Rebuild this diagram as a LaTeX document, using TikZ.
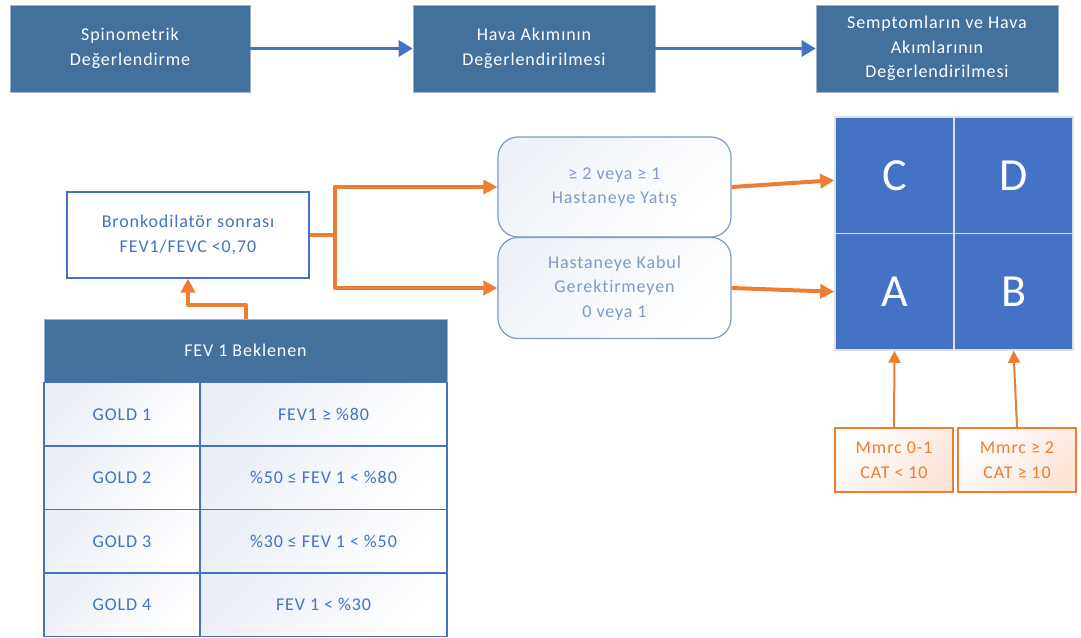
\documentclass[tikz,border=0pt]{standalone}
\usepackage{fontspec}
\setmainfont[LetterSpace=5,Ligatures={NoCommon}]{Carlito}
\usetikzlibrary{arrows.meta}
\definecolor{hdr}{HTML}{41719C}
\definecolor{hdrb}{HTML}{9DB3C9}
\definecolor{acc}{HTML}{4472C4}
\definecolor{org}{HTML}{ED7D31}
\definecolor{rtxt}{HTML}{7F9CC4}
\definecolor{rbord}{HTML}{7A9CC6}
\definecolor{rfill}{HTML}{EEF2F8}
\definecolor{cfill}{HTML}{EAEEF6}
\definecolor{ofill}{HTML}{FCE4D6}
\tikzset{
  txt/.style={font=\fontsize{18}{24.5}\selectfont, align=center, inner sep=0pt},
  topbox/.style={txt, draw=hdrb, line width=0.6pt, fill=hdr, text=white, minimum height=87pt},
  bkbox/.style={txt, draw=acc, line width=1.2pt, fill=white, text=acc, minimum width=242pt, minimum height=86pt},
  rbox/.style={txt, draw=rbord, line width=1.2pt, rounded corners=20pt, top color=rfill, bottom color=white, shading angle=45, text=rtxt, minimum width=233pt},
  cell/.style={draw=gray!25, line width=1.5pt, fill=acc, text=white, font=\fontsize{46}{46}\selectfont, inner sep=0pt, minimum width=119pt, minimum height=116.5pt},
  mbox/.style={txt, draw=org, line width=1.2pt, top color=white, bottom color=ofill, shading angle=45, text=org, minimum width=118pt, minimum height=64pt},
  hdbox/.style={txt, draw=hdrb, line width=0.8pt, fill=hdr, text=white, minimum width=403pt, minimum height=63.5pt},
  tcellL/.style={txt, draw=acc, line width=1.3pt, top color=cfill, bottom color=white, shading angle=45, text=acc, minimum width=156pt, minimum height=63.5pt},
  tcellR/.style={txt, draw=acc, line width=1.3pt, top color=cfill, bottom color=white, shading angle=45, text=acc, minimum width=247pt, minimum height=63.5pt},
  barrow/.style={draw=acc, line width=3pt, -{Triangle[length=14pt,width=16pt]}},
  oline/.style={draw=org, line width=4pt},
  oarrow/.style={draw=org, line width=4pt, -{Triangle[length=14pt,width=14pt]}, line join=round},
  sarrow/.style={draw=org, line width=2pt, -{Triangle[length=12pt,width=12pt]}}
}
\begin{document}
\begin{tikzpicture}[x=1pt,y=-1pt]
\useasboundingbox (0,0) rectangle (1081,637);
\fill[white] (0,0) rectangle (1081,637);
% top flow
\node[topbox, minimum width=240pt] (b1) at (130,48.5) {Spinometrik\\Değerlendirme};
\node[topbox, minimum width=242pt] (b2) at (534,48.5) {Hava Akımının\\Değerlendirilmesi};
\node[topbox, minimum width=242pt] (b3) at (937,48.5) {Semptomların ve Hava\\Akımlarının\\Değerlendirilmesi};
\draw[barrow] (b1.east) -- (b2.west);
\draw[barrow] (b2.east) -- (b3.west);
% bronkodilator box
\node[bkbox] (bk) at (188,235) {Bronkodilatör sonrası\\FEV1/FEVC <0,70};
% rounded boxes
\node[rbox, minimum height=100pt] (up) at (614.5,187) {≥ 2 veya ≥ 1\\Hastaneye Yatış};
\node[rbox, minimum height=101pt] (lo) at (614.5,288) {Hastaneye Kabul\\Gerektirmeyen\\0 veya 1};
\coordinate (j) at (335,235);
\draw[oline] (bk.east) -- (j);
\draw[oarrow] (j) |- (up.west);
\draw[oarrow] (j) |- (lo.west);
% grid
\node[cell] (cC) at (894.5,175.25) {C};
\node[cell] (cD) at (1013.5,175.25) {D};
\node[cell] (cA) at (894.5,291.75) {A};
\node[cell] (cB) at (1013.5,291.75) {B};
\draw[oarrow] (up.east) -- ([yshift=-5pt]cC.west);
\draw[oarrow] (lo.east) -- (cA.west);
% mmrc boxes
\node[mbox] (m1) at (894,460) {Mmrc 0-1\\CAT < 10};
\node[mbox] (m2) at (1017,460) {Mmrc ≥ 2\\CAT ≥ 10};
\draw[sarrow] (m1.north) -- (cA.south);
\draw[sarrow] (m2.north) -- (cB.south);
% table
\node[hdbox] (hd) at (245.5,350.75) {FEV 1 Beklenen};
\node[tcellL] (g1) at (122,414.25) {GOLD 1};
\node[tcellR] (v1) at (323.5,414.25) {FEV1 ≥ \%80};
\node[tcellL] (g2) at (122,477.75) {GOLD 2};
\node[tcellR] (v2) at (323.5,477.75) {\%50 ≤ FEV 1 < \%80};
\node[tcellL] (g3) at (122,541.25) {GOLD 3};
\node[tcellR] (v3) at (323.5,541.25) {\%30 ≤ FEV 1 < \%50};
\node[tcellL] (g4) at (122,604.75) {GOLD 4};
\node[tcellR] (v4) at (323.5,604.75) {FEV 1 < \%30};
\draw[oarrow] (hd.north) -- ++(0,-14) -| (bk.south);
\end{tikzpicture}
\end{document}
